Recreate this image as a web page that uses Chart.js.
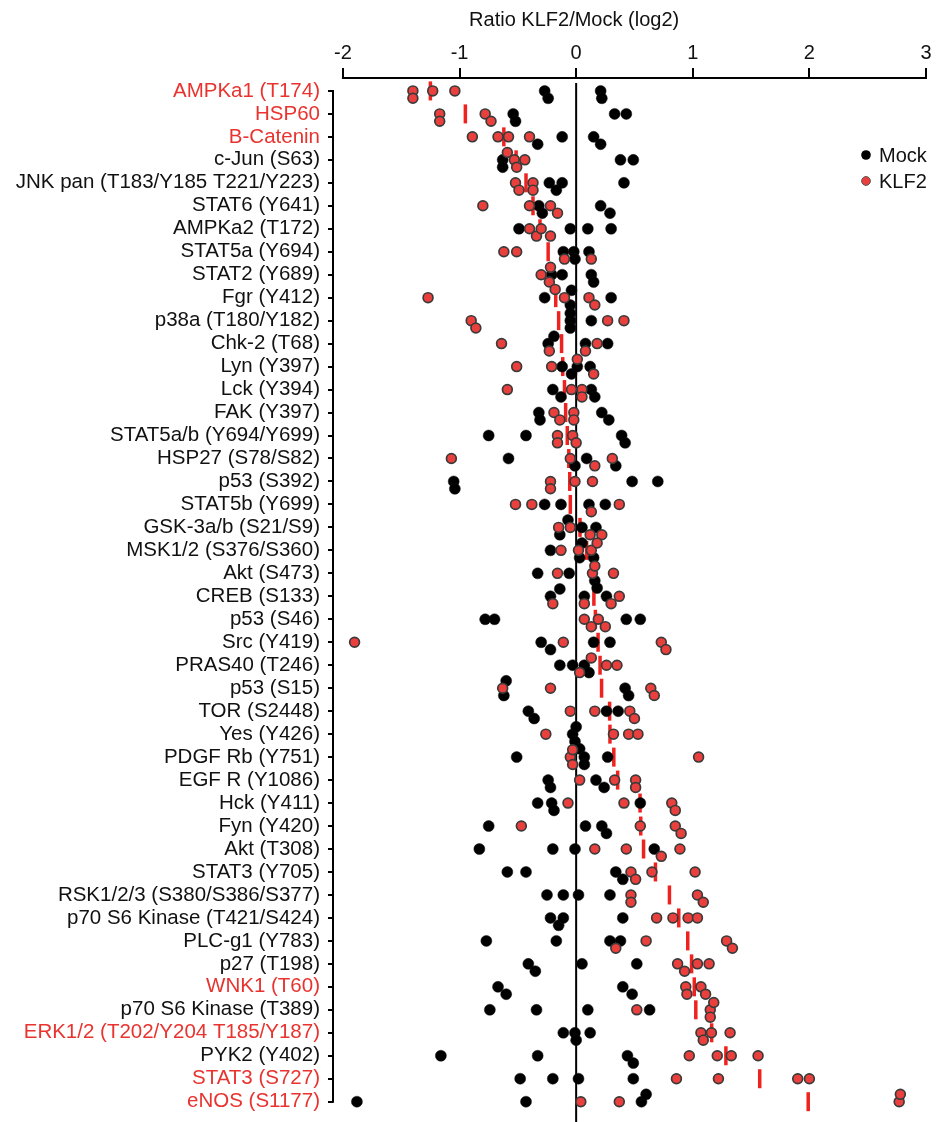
<!DOCTYPE html>
<html>
<head>
<meta charset="utf-8">
<script src="https://cdn.jsdelivr.net/npm/chart.js@4.4.1/dist/chart.umd.min.js"></script>
<style>
html,body{margin:0;padding:0;background:#fff;}
#wrap{width:939px;height:1122px;}
canvas{display:block;}
</style>
</head>
<body>
<div id="wrap"><canvas id="c" width="939" height="1122"></canvas></div>
<script>
// ---- data ----
const categories = [
"AMPKa1 (T174)","HSP60","B-Catenin","c-Jun (S63)","JNK pan (T183/Y185 T221/Y223)","STAT6 (Y641)",
"AMPKa2 (T172)","STAT5a (Y694)","STAT2 (Y689)","Fgr (Y412)","p38a (T180/Y182)","Chk-2 (T68)",
"Lyn (Y397)","Lck (Y394)","FAK (Y397)","STAT5a/b (Y694/Y699)","HSP27 (S78/S82)","p53 (S392)",
"STAT5b (Y699)","GSK-3a/b (S21/S9)","MSK1/2 (S376/S360)","Akt (S473)","CREB (S133)","p53 (S46)",
"Src (Y419)","PRAS40 (T246)","p53 (S15)","TOR (S2448)","Yes (Y426)","PDGF Rb (Y751)",
"EGF R (Y1086)","Hck (Y411)","Fyn (Y420)","Akt (T308)","STAT3 (Y705)","RSK1/2/3 (S380/S386/S377)",
"p70 S6 Kinase (T421/S424)","PLC-g1 (Y783)","p27 (T198)","WNK1 (T60)","p70 S6 Kinase (T389)",
"ERK1/2 (T202/Y204 T185/Y187)","PYK2 (Y402)","STAT3 (S727)","eNOS (S1177)"
];
const highlighted = ["AMPKa1 (T174)","HSP60","B-Catenin","WNK1 (T60)","ERK1/2 (T202/Y204 T185/Y187)","STAT3 (S727)","eNOS (S1177)"];

const mockValues = [
[-0.27,-0.24,0.21,0.22],[-0.54,-0.52,0.33,0.43],[-0.33,-0.12,0.15,0.21],[-0.63,-0.63,0.38,0.49],
[-0.23,-0.17,-0.12,0.41],[-0.32,-0.29,0.21,0.29],[-0.49,-0.05,0.10,0.30],[-0.11,-0.02,-0.01,0.11],
[-0.21,-0.12,0.13,0.15],[-0.27,-0.05,-0.04,0.30],[-0.05,-0.05,-0.05,0.13],[-0.24,-0.19,0.08,0.27],
[-0.12,-0.04,0.01,0.12],[-0.20,-0.13,0.13,0.16],[-0.32,-0.31,0.22,0.28],[-0.75,-0.43,0.39,0.42],
[-0.58,-0.01,0.09,0.34],[-1.05,-1.04,0.48,0.70],[-0.27,-0.13,0.11,0.25],[-0.14,-0.07,0.05,0.17],
[-0.22,0.03,0.05,0.15],[-0.33,-0.06,0.16,0.18],[-0.22,-0.14,0.07,0.26],[-0.78,-0.70,0.43,0.55],
[-0.30,-0.22,0.15,0.29],[-0.14,-0.03,0.07,0.11],[-0.62,-0.60,0.42,0.45],[-0.41,-0.36,0.26,0.36],
[-0.03,-0.01,0.00,0.03],[-0.51,0.07,0.07,0.27],[-0.24,-0.22,0.17,0.24],[-0.33,-0.21,-0.19,0.55],
[-0.75,0.08,0.22,0.26],[-0.83,-0.20,-0.01,0.67],[-0.59,-0.43,0.34,0.40],[-0.25,-0.11,0.02,0.29],
[-0.22,-0.15,-0.11,0.40],[-0.77,-0.17,0.29,0.38],[-0.41,-0.35,0.05,0.52],[-0.67,-0.60,0.40,0.48],
[-0.74,-0.34,0.10,0.63],[-0.11,-0.01,0.00,0.12],[-1.16,-0.33,0.44,0.49],[-0.48,-0.20,0.02,0.49],
[-1.88,-0.43,0.56,0.60]
];

const klf2Values = [
[-1.40,-1.40,-1.23,-1.04],[-1.17,-1.17,-0.78,-0.73],[-0.89,-0.67,-0.58,-0.40],[-0.59,-0.53,-0.51,-0.44],
[-0.52,-0.49,-0.37,-0.37],[-0.80,-0.40,-0.22,-0.16],[-0.40,-0.34,-0.30,-0.22],[-0.62,-0.51,-0.10,0.13],
[-0.30,-0.23,-0.22,-0.18],[-1.27,-0.10,0.11,0.16],[-0.90,-0.86,0.27,0.41],[-0.64,-0.23,0.08,0.18],
[-0.51,-0.21,0.01,0.15],[-0.59,-0.04,0.05,0.05],[-0.19,-0.14,-0.02,-0.02],[-0.16,-0.16,-0.03,0.00],
[-1.07,-0.05,0.16,0.31],[-0.22,-0.22,-0.01,0.14],[-0.52,-0.38,0.13,0.37],[-0.15,-0.05,0.12,0.22],
[-0.13,0.02,0.13,0.18],[-0.16,0.14,0.16,0.32],[-0.20,0.07,0.30,0.37],[0.07,0.13,0.19,0.25],
[-1.90,-0.11,0.73,0.77],[0.03,0.13,0.26,0.35],[-0.63,-0.22,0.64,0.67],[-0.05,0.16,0.46,0.50],
[-0.26,0.32,0.45,0.53],[-0.05,-0.03,-0.03,1.05],[0.03,0.33,0.51,0.51],[-0.07,0.41,0.82,0.85],
[-0.47,0.55,0.85,0.90],[0.16,0.43,0.73,0.89],[0.47,0.51,0.65,1.02],[0.47,0.47,1.04,1.09],
[0.69,0.83,0.96,1.04],[0.34,0.60,1.29,1.34],[0.87,0.93,1.04,1.14],[0.94,0.95,1.07,1.11],
[0.52,1.15,1.15,1.18],[1.07,1.09,1.16,1.32],[0.97,1.21,1.33,1.56],[0.86,1.22,1.90,2.00],
[0.04,0.37,2.77,2.78]
];

const medianRatio = [
-1.25,-0.95,-0.62,-0.515,-0.43,-0.37,-0.31,-0.24,-0.21,-0.175,-0.15,-0.125,-0.115,-0.10,-0.09,
-0.076,-0.063,-0.055,-0.05,0.033,0.09,0.14,0.152,0.165,0.188,0.205,0.218,0.287,0.29,0.323,
0.356,0.548,0.554,0.578,0.68,0.80,0.88,0.957,0.99,1.013,1.026,1.162,1.284,1.574,1.99
];

const xTickValues = [-2,-1,0,1,2,3];
const xTitle = "Ratio KLF2/Mock (log2)";
const seriesNames = ["Mock","KLF2"];

// ---- beeswarm-style separation of overlapping points in a row ----
const STEP = 0.32, THR = 0.08;
const mockPts = [], klfPts = [];
categories.forEach((cat, r) => {
  const pts = mockValues[r].map(v => ({v, s:0})).concat(klf2Values[r].map(v => ({v, s:1})));
  pts.sort((a,b) => a.v - b.v);
  const placed = [];
  const order = r === categories.length - 1 ? [0,-1,1,-2,2] : [0,1,-1,2,-2,3,-3];
  for (const p of pts) {
    for (const k of order) {
      if (!placed.some(q => q.k === k && Math.abs(q.v - p.v) < THR)) { p.k = k; break; }
    }
    placed.push(p);
    (p.s === 0 ? mockPts : klfPts).push({x: p.v, y: r + p.k * STEP});
  }
});
const medPts = medianRatio.map((v, r) => ({x: v, y: r}));

const FONT = "'Liberation Sans', Arial, Helvetica, sans-serif";
const RED_TXT = '#e8332f';

const decor = {
  id: 'decor',
  beforeDatasetsDraw(chart) {
    const {ctx, chartArea} = chart;
    const xs = chart.scales.x, ys = chart.scales.y;
    ctx.save();
    ctx.strokeStyle = '#000';
    ctx.lineWidth = 2;
    ctx.beginPath();
    const x0 = xs.getPixelForValue(0);
    ctx.moveTo(x0, chartArea.top + 5);
    ctx.lineTo(x0, chart.height);
    ctx.moveTo(xs.getPixelForValue(xTickValues[0]) - 1, chartArea.top);
    ctx.lineTo(xs.getPixelForValue(xTickValues[xTickValues.length-1]) + 1, chartArea.top);
    ctx.moveTo(chartArea.left, ys.getPixelForValue(0) - 1);
    ctx.lineTo(chartArea.left, ys.getPixelForValue(categories.length - 1) + 1);
    ctx.stroke();
    ctx.restore();
  },
  afterDraw(chart) {
    const {ctx, chartArea} = chart;
    const xs = chart.scales.x;
    ctx.save();
    ctx.fillStyle = '#111';
    ctx.font = "20px " + FONT;
    ctx.textAlign = 'center';
    ctx.textBaseline = 'middle';
    ctx.fillText(xTitle, xs.getPixelForValue(0) - 2, 20);
    const lx = chartArea.right - 60, ly = chartArea.top + 77;
    ctx.textAlign = 'left';
    ctx.beginPath(); ctx.arc(lx, ly, 4.8, 0, Math.PI*2); ctx.fillStyle = '#000'; ctx.fill();
    ctx.beginPath(); ctx.arc(lx, ly + 26, 4.4, 0, Math.PI*2); ctx.fillStyle = '#e9403d'; ctx.fill();
    ctx.lineWidth = 1; ctx.strokeStyle = '#555'; ctx.stroke();
    ctx.fillStyle = '#111';
    ctx.fillText(seriesNames[0], lx + 13, ly + 1);
    ctx.fillText(seriesNames[1], lx + 13, ly + 27);
    ctx.restore();
  }
};

new Chart(document.getElementById('c'), {
  type: 'scatter',
  data: {
    datasets: [
      { label: seriesNames[1], data: klfPts, backgroundColor: '#e9403d', borderColor: '#3a3a3a',
        borderWidth: 1.7, pointRadius: 4.9, pointHoverRadius: 4.9, clip: false },
      { label: seriesNames[0], data: mockPts, backgroundColor: '#000', borderColor: '#111',
        borderWidth: 0.5, pointRadius: 5.5, pointHoverRadius: 5.5, clip: false },
      { label: 'median', data: medPts, pointStyle: 'line', rotation: 90, pointRadius: 9.5,
        pointHoverRadius: 9.5, borderColor: '#ee2320', borderWidth: 3.5, clip: false }
    ]
  },
  options: {
    responsive: false,
    animation: false,
    devicePixelRatio: 1,
    layout: { padding: { left: 0, right: 6, top: 0, bottom: 14 } },
    plugins: { legend: { display: false }, tooltip: { enabled: false } },
    scales: {
      x: {
        type: 'linear', position: 'top', min: -2.085, max: 3,
        afterBuildTicks: s => { s.ticks = xTickValues.map(v => ({value: v})); },
        afterFit: s => { s.height = 78; },
        border: { display: false },
        grid: { drawOnChartArea: false, drawTicks: true, tickLength: 10, lineWidth: 2, color: '#000' },
        ticks: { color: '#111', font: { family: FONT, size: 20 }, padding: 3, maxRotation: 0,
                 callback: v => String(v) }
      },
      y: {
        type: 'linear', reverse: true, min: -0.5625, max: categories.length - 1,
        afterBuildTicks: s => { s.ticks = categories.map((c, i) => ({value: i})); },
        afterFit: s => { s.width = 333; },
        border: { display: false },
        grid: { drawOnChartArea: false, drawTicks: true, tickLength: 5, lineWidth: 2, color: '#000' },
        ticks: {
          autoSkip: false, padding: 8,
          font: { family: FONT, size: 20.5 },
          color: c => highlighted.includes(categories[c.tick.value]) ? RED_TXT : '#111',
          callback: v => categories[v]
        }
      }
    }
  },
  plugins: [decor]
});
</script>
</body>
</html>
